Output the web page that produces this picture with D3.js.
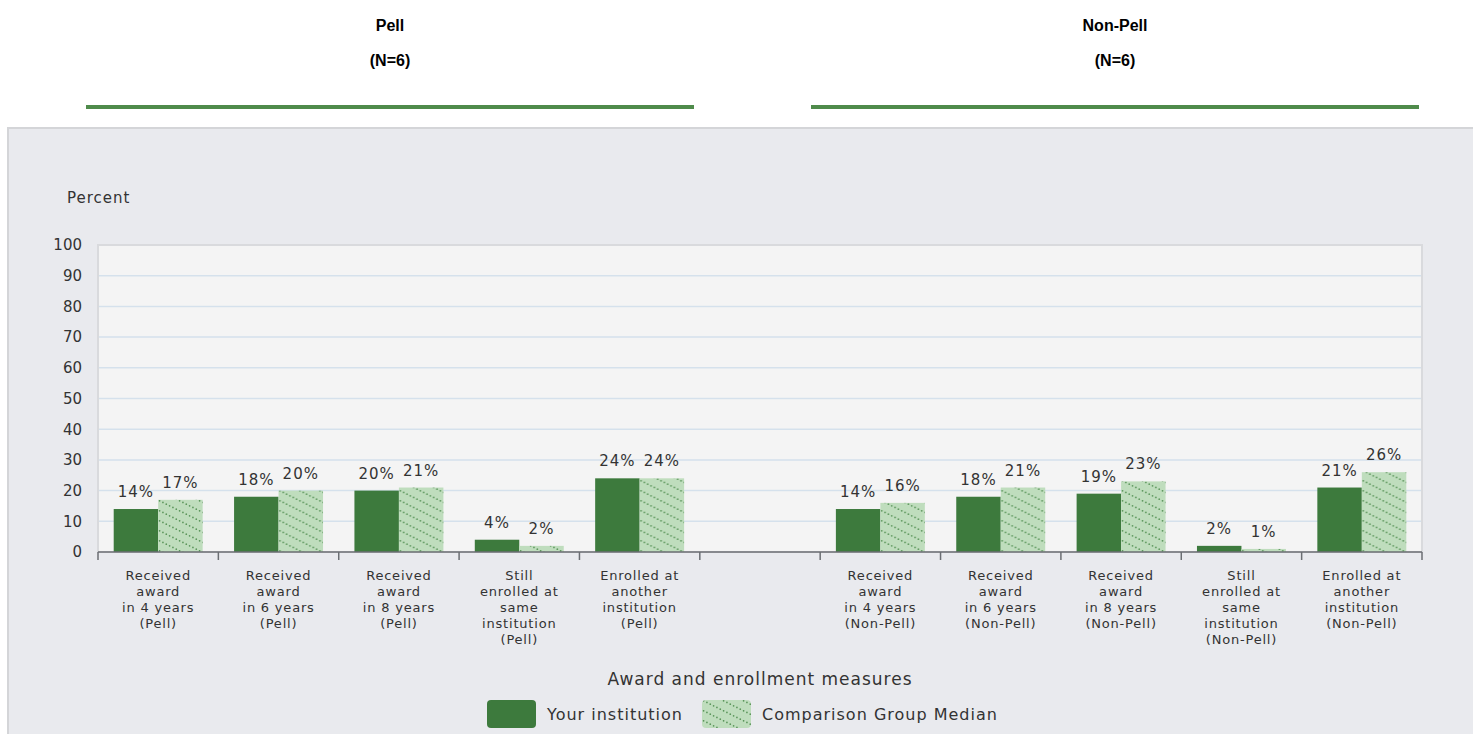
<!DOCTYPE html>
<meta charset="utf-8">
<style>
    body { margin: 0; background: #fff; }
    svg text { fill: #333; }
    .head { font: bold 16px "Liberation Sans", Arial, sans-serif; fill: #000; }
    .chart text { font-family: "DejaVu Sans", Verdana, sans-serif; }
</style>
<body>
<script src="https://d3js.org/d3.v7.min.js"></script>
<script>

    var groups = ["Pell", "Non-Pell"],
        groupN = ["(N=6)", "(N=6)"];

    // one slot left blank between the two groups
    var categories = [
        "Received\naward\nin 4 years\n(Pell)",
        "Received\naward\nin 6 years\n(Pell)",
        "Received\naward\nin 8 years\n(Pell)",
        "Still\nenrolled at\nsame\ninstitution\n(Pell)",
        "Enrolled at\nanother\ninstitution\n(Pell)",
        "",
        "Received\naward\nin 4 years\n(Non-Pell)",
        "Received\naward\nin 6 years\n(Non-Pell)",
        "Received\naward\nin 8 years\n(Non-Pell)",
        "Still\nenrolled at\nsame\ninstitution\n(Non-Pell)",
        "Enrolled at\nanother\ninstitution\n(Non-Pell)"
    ];

    var yourInstitution = [14, 18, 20, 4, 24, null, 14, 18, 19, 2, 21];
    var groupMedian     = [17, 20, 21, 2, 24, null, 16, 21, 23, 1, 26];

    var series = ["Your institution", "Comparison Group Median"];
    var yTicks = [0, 10, 20, 30, 40, 50, 60, 70, 80, 90, 100];

    var width = 1473, height = 734;
    var plot = {left: 98, right: 1422, top: 245, bottom: 552};

    var svg = d3.select("body").append("svg")
        .attr("width", width)
        .attr("height", height);

    var defs = svg.append("defs");
    var pat = defs.append("pattern")
        .attr("id", "dots")
        .attr("patternUnits", "userSpaceOnUse")
        .attr("width", 20).attr("height", 10);
    pat.append("rect").attr("width", 20).attr("height", 10).attr("fill", "#bfddbd");
    pat.selectAll("circle")
        .data(d3.range(6))
        .enter().append("circle")
        .attr("cx", function(k) { return 1.6 + 20 / 6 * k; })
        .attr("cy", function(k) { return (1.6 + 20 / 6 * k) / 2; })
        .attr("r", 0.85)
        .attr("fill", "#5a955a");

    // headers above the chart panel
    var headX = d3.scaleBand().domain(groups).range([86, 1419]).paddingInner(0.1614);
    var head = svg.append("g").selectAll("g")
        .data(groups)
        .enter().append("g");
    head.append("text")
        .attr("class", "head")
        .attr("x", function(d) { return headX(d) + headX.bandwidth() / 2; })
        .attr("y", 31)
        .attr("text-anchor", "middle")
        .text(function(d) { return d; });
    head.append("text")
        .attr("class", "head")
        .attr("x", function(d) { return headX(d) + headX.bandwidth() / 2; })
        .attr("y", 66)
        .attr("text-anchor", "middle")
        .text(function(d, i) { return groupN[i]; });
    head.append("rect")
        .attr("x", function(d) { return headX(d); })
        .attr("y", 105)
        .attr("width", headX.bandwidth())
        .attr("height", 4)
        .attr("fill", "#4f8b4b");

    var chart = svg.append("g").attr("class", "chart");

    chart.append("rect")
        .attr("x", 8).attr("y", 128)
        .attr("width", width).attr("height", height)
        .attr("fill", "#e9eaee")
        .attr("stroke", "#d4d5d8")
        .attr("stroke-width", 2);

    var x = d3.scaleBand()
        .domain(d3.range(categories.length))
        .range([plot.left, plot.right])
        .padding(0);

    var x1 = d3.scaleBand()
        .domain(series)
        .range([0, x.bandwidth()])
        .paddingInner(0)
        .paddingOuter(0.353);

    var y = d3.scaleLinear()
        .domain([0, 100])
        .range([plot.bottom, plot.top]);

    // plot background + frame
    chart.append("rect")
        .attr("x", plot.left).attr("y", plot.top)
        .attr("width", plot.right - plot.left)
        .attr("height", plot.bottom - plot.top)
        .attr("fill", "#f4f4f4")
        .attr("stroke", "#d9dadd")
        .attr("stroke-width", 2);

    chart.append("g").selectAll("line")
        .data(yTicks.slice(1, -1))
        .enter().append("line")
        .attr("x1", plot.left + 1).attr("x2", plot.right - 1)
        .attr("y1", function(d) { return y(d); })
        .attr("y2", function(d) { return y(d); })
        .attr("stroke", "#d5e1ec")
        .attr("stroke-width", 1.5);

    // y axis labels
    var yAxis = d3.axisLeft(y).tickValues(yTicks).tickSize(0).tickPadding(16);
    chart.append("g")
        .attr("transform", "translate(" + plot.left + ",0)")
        .call(yAxis)
        .call(function(g) { g.select(".domain").remove(); })
        .selectAll("text")
        .style("font-size", "15px")
        .attr("fill", "#333");

    chart.append("text")
        .attr("x", 67).attr("y", 203)
        .style("font-size", "15px")
        .style("letter-spacing", "1px")
        .text("Percent");

    var vals = [yourInstitution, groupMedian];
    var fills = ["#3d7a3d", "url(#dots)"];

    var slot = chart.append("g").selectAll("g")
        .data(categories.map(function(c, i) { return i; }).filter(function(i) { return yourInstitution[i] != null; }))
        .enter().append("g")
        .attr("transform", function(i) { return "translate(" + x(i) + ",0)"; });

    series.forEach(function(s, si) {
        slot.append("rect")
            .attr("x", x1(s))
            .attr("y", function(i) { return y(vals[si][i]); })
            .attr("width", x1.bandwidth())
            .attr("height", function(i) { return y(0) - y(vals[si][i]); })
            .attr("fill", fills[si]);
        slot.append("text")
            .attr("x", x1(s) + x1.bandwidth() / 2)
            .attr("y", function(i) { return y(vals[si][i]) - 12; })
            .attr("text-anchor", "middle")
            .style("font-size", "15px")
            .style("letter-spacing", "1px")
            .text(function(i) { return vals[si][i] + "%"; });
    });

    // x axis: line and ticks at slot edges
    var xa = chart.append("g");
    xa.append("line")
        .attr("x1", plot.left).attr("x2", plot.right)
        .attr("y1", plot.bottom).attr("y2", plot.bottom)
        .attr("stroke", "#6b6e73").attr("stroke-width", 1.5);
    xa.selectAll("line.tk")
        .data(d3.range(categories.length + 1))
        .enter().append("line")
        .attr("class", "tk")
        .attr("x1", function(i) { return plot.left + i * x.step(); })
        .attr("x2", function(i) { return plot.left + i * x.step(); })
        .attr("y1", plot.bottom).attr("y2", plot.bottom + 8)
        .attr("stroke", "#6b6e73").attr("stroke-width", 1.5);

    var lab = xa.selectAll("text.cat")
        .data(categories)
        .enter().append("text")
        .attr("class", "cat")
        .attr("text-anchor", "middle")
        .attr("transform", function(d, i) { return "translate(" + (x(i) + x.bandwidth() / 2) + ",580)"; })
        .style("font-size", "13px")
        .style("letter-spacing", "0.8px");
    lab.selectAll("tspan")
        .data(function(d) { return d ? d.split("\n") : []; })
        .enter().append("tspan")
        .attr("x", 0)
        .attr("y", function(d, j) { return j * 16; })
        .text(function(d) { return d; });

    chart.append("text")
        .attr("x", 760).attr("y", 685)
        .attr("text-anchor", "middle")
        .style("font-size", "17px")
        .style("letter-spacing", "1px")
        .text("Award and enrollment measures");

    // legend
    var legX = [487, 702];
    var leg = chart.append("g").selectAll("g")
        .data(series)
        .enter().append("g")
        .attr("transform", function(d, i) { return "translate(" + legX[i] + ",700)"; });
    leg.append("rect")
        .attr("width", 49).attr("height", 28)
        .attr("rx", 4)
        .attr("fill", function(d, i) { return fills[i]; });
    leg.append("text")
        .attr("x", 60).attr("y", 20)
        .style("font-size", "16px")
        .style("letter-spacing", "1px")
        .text(function(d) { return d; });

</script>
